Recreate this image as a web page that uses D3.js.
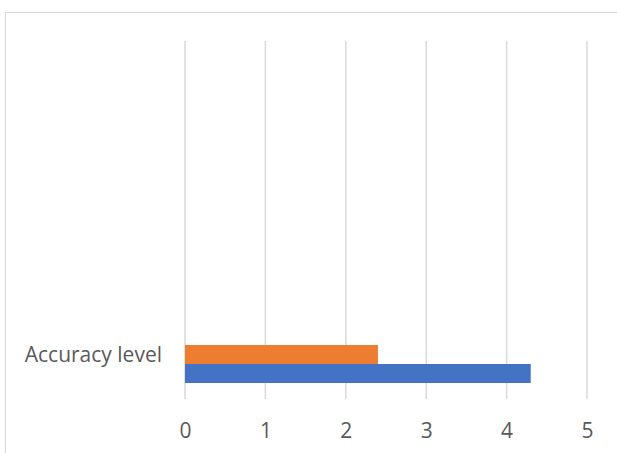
<!DOCTYPE html>
<html><head><meta charset="utf-8">
<script src="https://cdn.jsdelivr.net/npm/d3@7"></script>
<style>html,body{margin:0;padding:0;background:#fff;}svg{display:block;}</style>
</head><body>
<script>
const categories = ["Accuracy level"];
const seriesNames = ["Series 2", "Series 1"];
const series2Values = [2.4];
const series1Values = [4.3];
const tickValues = [0, 1, 2, 3, 4, 5];
const seriesColors = ["#ED7D31", "#4472C4"];

const W = 617, H = 453;
const svg = d3.select("body").append("svg").attr("width", W).attr("height", H);

// chart border
svg.append("rect").attr("x", 5.5).attr("y", 12.5).attr("width", 640).attr("height", 500)
  .attr("fill", "none").attr("stroke", "#d9d9d9").attr("stroke-width", 1);

const x = d3.scaleLinear().domain([0, 5]).range([185, 587]);
const plotTop = 41, plotBottom = 399;
const y = d3.scaleBand().domain(categories).range([326, 402]).paddingInner(0).paddingOuter(0.5);
const ys = d3.scaleBand().domain(seriesNames).range([0, y.bandwidth()]);

// gridlines
svg.append("g").selectAll("line").data(tickValues).join("line")
  .attr("x1", d => x(d)).attr("x2", d => x(d))
  .attr("y1", plotTop).attr("y2", plotBottom)
  .attr("stroke", "#d9d9d9").attr("stroke-width", 1.5);

const data = categories.map((c, i) => ({cat: c, vals: [series2Values[i], series1Values[i]]}));
const g = svg.append("g");
data.forEach(d => {
  g.selectAll(null).data(d.vals.map((v, j) => ({v, s: seriesNames[j], c: seriesColors[j]}))).join("rect")
    .attr("x", x(0)).attr("y", e => y(d.cat) + ys(e.s))
    .attr("width", e => x(e.v) - x(0)).attr("height", ys.bandwidth())
    .attr("fill", e => e.c);
});

// x axis labels
const xAxis = d3.axisBottom(x).tickValues(tickValues).tickSize(0).tickPadding(0).tickFormat(d3.format("d"));
const xg = svg.append("g").attr("transform", `translate(0,${plotBottom})`).call(xAxis);
xg.select(".domain").remove();
xg.selectAll("text").attr("y", 39).attr("dy", null)
  .attr("font-family", "Open Sans").attr("font-size", 21).attr("fill", "#595959");

// y axis labels
const yAxis = d3.axisLeft(y).tickSize(0).tickPadding(0);
const yg = svg.append("g").attr("transform", `translate(162,0)`).call(yAxis);
yg.select(".domain").remove();
yg.selectAll("text").attr("x", 0).attr("dy", null).attr("y", 0)
  .attr("font-family", "Open Sans").attr("font-size", 21).attr("fill", "#595959")
  .attr("text-anchor", "end");
yg.selectAll(".tick").attr("transform", d => `translate(0,${y(d) + y.bandwidth()/2 - 2})`);
</script>
</body></html>
